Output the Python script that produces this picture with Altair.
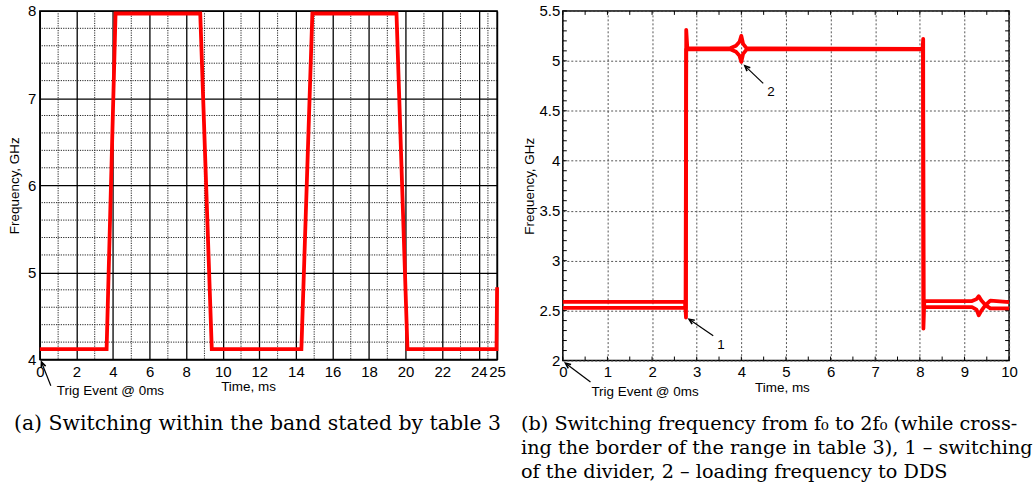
import altair as alt
import pandas as pd

FONT = "Liberation Sans"
SERIF = "DejaVu Serif"
RED = "#ff0000"

# ---------------- panel (a) data ----------------
a_time = [0.0, 3.65, 4.14, 8.77, 9.40, 14.30, 14.90, 19.50, 20.10, 24.97, 25.0]
a_freq = [4.12, 4.12, 7.97, 7.97, 4.12, 4.12, 7.97, 7.97, 4.12, 4.12, 4.83]
a_xticks = [0, 2, 4, 6, 8, 10, 12, 14, 16, 18, 20, 22, 24, 25]
a_yticks = [4, 5, 6, 7, 8]
a_xminor = [1, 3, 5, 7, 9, 11, 13, 15, 17, 19, 21, 23, 24.5]
a_yminor = [4.2, 4.4, 4.6, 4.8, 5.2, 5.4, 5.6, 5.8, 6.2, 6.4, 6.6, 6.8, 7.2, 7.4, 7.6, 7.8]
a_arrow_t, a_arrow_f, a_arrow_t2, a_arrow_f2, a_arrow_ang = [0.60], [3.70], [0.09], [3.97], [338]
a_label_t, a_label_f, a_label = [0.93], [3.636], ["Trig Event @ 0ms"]
a_caption = ["(a) Switching within the band stated by table 3"]

# ---------------- panel (b) data ----------------
bA_time = [0, 2.74, 2.76, 2.765, 2.79, 3.75, 3.88, 3.96, 4.00, 4.04, 4.12, 8.06, 8.075, 8.08,
           8.10, 9.17, 9.27, 9.32, 9.38, 9.47, 9.58, 10.0]
bA_freq = [2.588, 2.588, 2.43, 5.31, 5.125, 5.125, 5.15, 5.19, 5.25, 5.17, 5.125, 5.12, 5.22, 2.32,
           2.595, 2.595, 2.615, 2.644, 2.60, 2.555, 2.60, 2.585]
bB_time = [0, 2.75, 2.765, 2.79, 3.75, 3.88, 3.96, 4.00, 4.04, 4.12, 8.07, 8.085, 8.10, 9.17,
           9.27, 9.32, 9.38, 9.47, 9.58, 10.0]
bB_freq = [2.528, 2.528, 5.115, 5.115, 5.115, 5.09, 5.05, 4.99, 5.07, 5.115, 5.115, 2.53, 2.535,
           2.535, 2.51, 2.453, 2.50, 2.555, 2.522, 2.522]
b_xticks = [0, 1, 2, 3, 4, 5, 6, 7, 8, 9, 10]
b_yticks = [2, 2.5, 3, 3.5, 4, 4.5, 5, 5.5]
b_xsmall = [i * 0.5 for i in range(21)]
b_ysmall = [round(2 + 0.1 * i, 1) for i in range(36)]
b_arrow_t = [0.62, 3.37, 4.49]
b_arrow_f = [1.785, 2.248, 4.775]
b_arrow_t2 = [0.06, 2.83, 4.08]
b_arrow_f2 = [1.973, 2.413, 4.95]
b_arrow_ang = [307, 304, 314]
b_label_t = [0.64, 3.46, 4.58]
b_label_f = [1.686, 2.159, 4.686]
b_label = ["Trig Event @ 0ms", "1", "2"]
b_caption = ["(b) Switching frequency from f\u2080 to 2f\u2080 (while cross-\n"
             "ing the border of the range in table 3), 1 \u2013 switching\n"
             "of the divider, 2 \u2013 loading frequency to DDS"]

W_A, H_A = 459, 350
W_B, H_B = 448, 351
ARROW = "M-0.45,1L0,0L0.45,1"

# ---------------- panel (a) ----------------
a_xs = alt.Scale(domain=[0, 25], nice=False, zero=False)
a_ys = alt.Scale(domain=[4, 8], nice=False, zero=False)
a_xaxis = alt.Axis(values=a_xticks, grid=True, gridColor="black", gridWidth=1.3, ticks=False,
                   domain=False, labelFontSize=15, labelPadding=5, labelFlush=False,
                   labelOverlap=False, labelColor="black", title="Time, ms", titleFontSize=13.5,
                   titleFontWeight="normal", titleX=209, titleY=20, titleColor="black")
a_yaxis = alt.Axis(values=a_yticks, grid=True, gridColor="black", gridWidth=1.3, ticks=False,
                   domain=False, labelFontSize=15, labelPadding=4, labelFlush=False,
                   labelOverlap=False, labelColor="black", title="Frequency, GHz",
                   titleFontSize=13.5, titleFontWeight="normal", titlePadding=6, titleColor="black")


def AX(f="t"):
    return alt.X(f"{f}:Q", scale=a_xs, axis=a_xaxis)


def AY(f="f"):
    return alt.Y(f"{f}:Q", scale=a_ys, axis=a_yaxis)


a_vminor = alt.Chart(pd.DataFrame({"t": a_xminor})).mark_rule(
    color="#222222", strokeWidth=1, strokeDash=[1.2, 1.2]).encode(x=AX())
a_hminor = alt.Chart(pd.DataFrame({"f": a_yminor})).mark_rule(
    color="#222222", strokeWidth=1, strokeDash=[1.2, 1.2]).encode(y=AY())
a_line = alt.Chart(pd.DataFrame({"t": a_time, "f": a_freq, "o": list(range(len(a_time)))})).mark_line(
    color=RED, strokeWidth=3.8, strokeJoin="miter").encode(x=AX(), y=AY(), order="o:Q")
a_arr_df = pd.DataFrame({"t": a_arrow_t, "f": a_arrow_f, "t2": a_arrow_t2, "f2": a_arrow_f2,
                         "ang": a_arrow_ang})
a_arr = alt.Chart(a_arr_df).mark_rule(color="black", strokeWidth=1.2).encode(
    x=AX(), y=AY(), x2="t2:Q", y2="f2:Q")
a_head = alt.Chart(a_arr_df).mark_point(shape=ARROW, filled=False, color="black", strokeWidth=1.6,
                                        size=110, opacity=1).encode(
    x=AX("t2"), y=AY("f2"), angle=alt.Angle("ang:Q", scale=None))
a_txt = alt.Chart(pd.DataFrame({"t": a_label_t, "f": a_label_f, "s": a_label})).mark_text(
    font=FONT, fontSize=13.5, align="left", baseline="middle", color="black").encode(
    x=AX(), y=AY(), text="s:N")
a_cap = alt.Chart(pd.DataFrame({"s": a_caption})).mark_text(
    font=SERIF, fontSize=20.5, align="left", baseline="alphabetic", color="black").encode(
    x=alt.value(-26), y=alt.value(421), text="s:N")

left = alt.layer(a_vminor, a_hminor, a_line, a_arr, a_head, a_txt, a_cap).properties(
    width=W_A, height=H_A)

# ---------------- panel (b) ----------------
b_xs = alt.Scale(domain=[0, 10], nice=False, zero=False)
b_ys = alt.Scale(domain=[2, 5.5], nice=False, zero=False)
b_xaxis = alt.Axis(values=b_xticks, grid=True, gridColor="#555555", gridWidth=1, gridDash=[2, 2],
                   ticks=False, domain=False, labelFontSize=15, labelPadding=4, labelFlush=False,
                   labelOverlap=False, labelColor="black", title="Time, ms", titleFontSize=13.5,
                   titleFontWeight="normal", titleX=220, titleY=20, titleColor="black")
b_yaxis = alt.Axis(values=b_yticks, grid=True, gridColor="#555555", gridWidth=1, gridDash=[2, 2],
                   ticks=False, domain=False, labelFontSize=15, labelPadding=3, labelFlush=False,
                   labelOverlap=False, labelColor="black", title="Frequency, GHz",
                   titleFontSize=13.5, titleFontWeight="normal", titlePadding=3, titleColor="black",
                   format="~r")


def BX(f="t"):
    return alt.X(f"{f}:Q", scale=b_xs, axis=b_xaxis)


def BY(f="f"):
    return alt.Y(f"{f}:Q", scale=b_ys, axis=b_yaxis)


xs_df = pd.DataFrame({"t": b_xsmall})
ys_df = pd.DataFrame({"f": b_ysmall})
tick_style = dict(color="black", strokeWidth=1)
b_tb = alt.Chart(xs_df).mark_rule(**tick_style).encode(x=BX(), y=alt.value(H_B - 4), y2=alt.value(H_B))
b_tt = alt.Chart(xs_df).mark_rule(**tick_style).encode(x=BX(), y=alt.value(0), y2=alt.value(4))
b_tl = alt.Chart(ys_df).mark_rule(**tick_style).encode(y=BY(), x=alt.value(0), x2=alt.value(4))
b_tr = alt.Chart(ys_df).mark_rule(**tick_style).encode(y=BY(), x=alt.value(W_B - 4), x2=alt.value(W_B))

b_lineA = alt.Chart(pd.DataFrame({"t": bA_time, "f": bA_freq, "o": list(range(len(bA_time)))})).mark_line(
    color=RED, strokeWidth=3.8, strokeJoin="round").encode(x=BX(), y=BY(), order="o:Q")
b_lineB = alt.Chart(pd.DataFrame({"t": bB_time, "f": bB_freq, "o": list(range(len(bB_time)))})).mark_line(
    color=RED, strokeWidth=3.8, strokeJoin="round").encode(x=BX(), y=BY(), order="o:Q")
b_arr_df = pd.DataFrame({"t": b_arrow_t, "f": b_arrow_f, "t2": b_arrow_t2, "f2": b_arrow_f2,
                         "ang": b_arrow_ang})
b_arr = alt.Chart(b_arr_df).mark_rule(color="black", strokeWidth=1.2).encode(
    x=BX(), y=BY(), x2="t2:Q", y2="f2:Q")
b_head = alt.Chart(b_arr_df).mark_point(shape=ARROW, filled=False, color="black", strokeWidth=1.6,
                                        size=110, opacity=1).encode(
    x=BX("t2"), y=BY("f2"), angle=alt.Angle("ang:Q", scale=None))
b_txt = alt.Chart(pd.DataFrame({"t": b_label_t, "f": b_label_f, "s": b_label})).mark_text(
    font=FONT, fontSize=13.5, align="left", baseline="middle", color="black").encode(
    x=BX(), y=BY(), text="s:N")
b_cap = alt.Chart(pd.DataFrame({"s": b_caption})).mark_text(
    font=SERIF, fontSize=19.3, align="left", baseline="alphabetic", color="black", lineBreak="\n",
    lineHeight=23.8).encode(x=alt.value(-42), y=alt.value(421), text="s:N")

right = alt.layer(b_tb, b_tt, b_tl, b_tr, b_lineA, b_lineB, b_arr, b_head, b_txt, b_cap).properties(
    width=W_B, height=H_B)

chart = alt.hconcat(left, right, spacing=66, bounds="flush").properties(
    padding={"left": 6, "top": 2, "right": 0, "bottom": 0}, background="white"
).configure_view(stroke="black", strokeWidth=1.5).configure_axis(labelFont=FONT, titleFont=FONT)

chart.save("out.html", embed_options={"renderer": "svg", "actions": False})
